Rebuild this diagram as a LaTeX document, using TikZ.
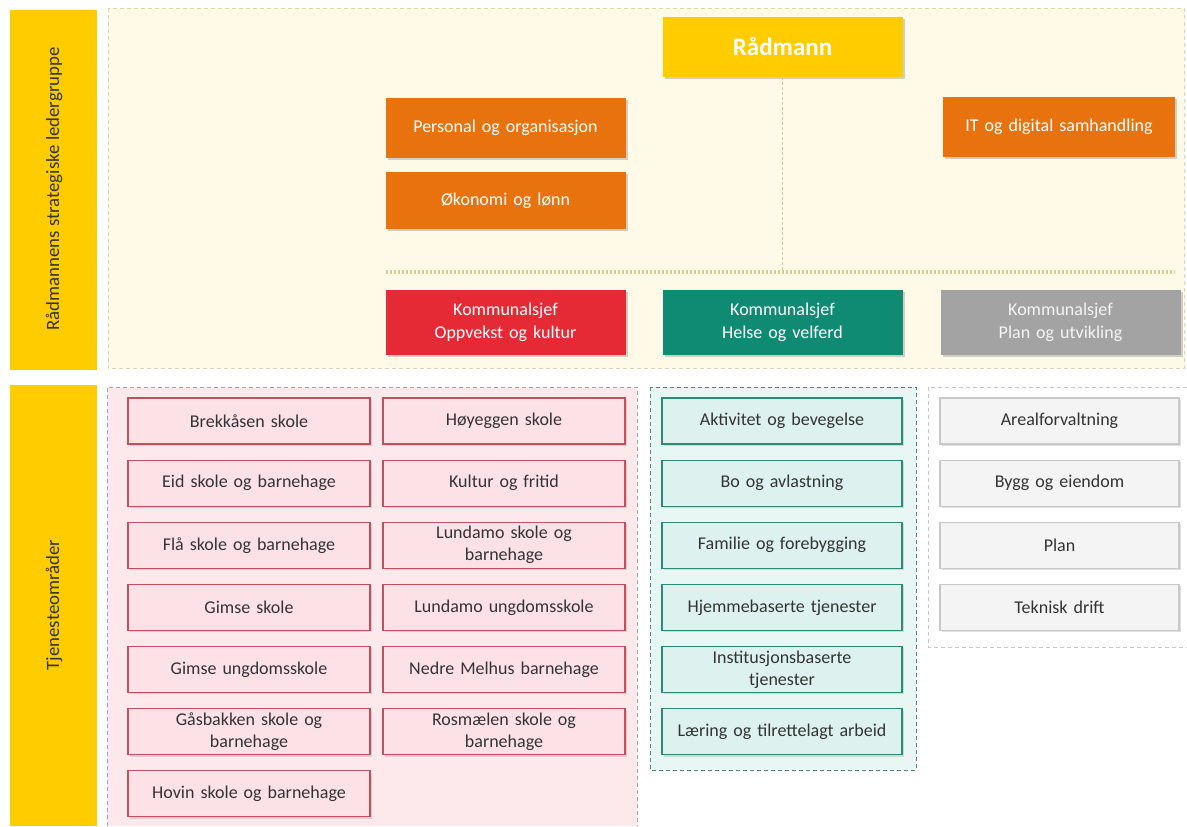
\documentclass[tikz,border=0pt]{standalone}
\usepackage{fontspec}
\setmainfont{Carlito}
\usetikzlibrary{calc,shadows}

\definecolor{gold}{HTML}{FFCC00}
\definecolor{cream}{HTML}{FFF9E8}
\definecolor{creamline}{HTML}{DDD6A8}
\definecolor{staffline}{HTML}{D9CD8C}
\definecolor{orange}{HTML}{E8720E}
\definecolor{oppvred}{HTML}{E52A36}
\definecolor{helsegreen}{HTML}{0F8A73}
\definecolor{plangray}{HTML}{A3A3A3}
\definecolor{pinkfill}{HTML}{FDE8EC}
\definecolor{pinkbox}{HTML}{FCE2E7}
\definecolor{pinkline}{HTML}{C0505C}
\definecolor{tealfill}{HTML}{E9F7F4}
\definecolor{tealbox}{HTML}{DDF2EE}
\definecolor{tealline}{HTML}{2E8A78}
\definecolor{grayfill}{HTML}{FFFFFF}
\definecolor{graybox}{HTML}{F4F4F4}
\definecolor{grayline}{HTML}{C8C8C8}
\definecolor{txt}{HTML}{333333}

\tikzset{
  headbox/.style={minimum width=120pt, minimum height=30pt, text width=112pt,
    align=center, inner sep=0pt, text=white, font=\fontsize{9}{11.5}\selectfont,
    drop shadow={opacity=0.35, shadow xshift=1.2pt, shadow yshift=-1.2pt}},
  unitbox/.style={minimum width=121pt, minimum height=23pt, text width=115pt,
    align=center, inner sep=0pt, text=txt, font=\fontsize{9}{11}\selectfont,
    line width=0.6pt,
    drop shadow={opacity=0.25, shadow xshift=1pt, shadow yshift=-1pt}},
  oppvbox/.style={unitbox, fill=pinkbox, draw=pinkline},
  helsebox/.style={unitbox, fill=tealbox, draw=tealline},
  planbox/.style={unitbox, fill=graybox, draw=grayline},
  groupline/.style={dashed, dash pattern=on 2pt off 1.5pt, line width=0.5pt},
  sidebar/.style={fill=gold, draw=none},
  sidelabel/.style={rotate=90, text=txt, font=\fontsize{9.4}{11}\selectfont}
}

\begin{document}
\begin{tikzpicture}[x=0.5pt, y=-0.5pt]
    \useasboundingbox (0,0) rectangle (1187,826);
    \fill[white] (0,0) rectangle (1187,826);

    % Side bars with vertical labels
    \fill[sidebar] (10,10) rectangle (97,370);
    \fill[sidebar] (10,385) rectangle (97,826);
    \node[sidelabel] (lbltop) at (54,189) {Rådmannens strategiske ledergruppe};
    \node[sidelabel] (lblbot) at (54,605) {Tjenesteområder};

    % Leader group region
    \filldraw[fill=cream, draw=creamline, groupline] (108,8) rectangle (1184,368);

    % Service area regions
    \fill[pinkfill] (107,387) rectangle (637,826);
    \draw[draw=gray!70, groupline] (107,826) -- (107,387) -- (637,387) -- (637,826);
    \filldraw[fill=tealfill, draw=tealline!60!gray, groupline] (650,387) rectangle (916,770);
    \fill[grayfill] (928,387) rectangle (1187,647);
    \draw[draw=grayline, groupline] (1187,387) -- (928,387) -- (928,647) -- (1187,647);

    % Top management
    \node[headbox, fill=gold, minimum height=30pt,
          font=\fontsize{12.5}{14}\selectfont\bfseries] (radmann) at (782.5,47) {Rådmann};
    \node[headbox] (personal) [fill=orange] at (505.5,127.5) {Personal og organisasjon};
    \node[headbox] (okonomi) [fill=orange, minimum height=28.5pt] at (505.5,200.5) {Økonomi og lønn};
    \node[headbox, fill=orange, minimum width=116pt] (itdig) at (1059,127) {IT og digital samhandling};

    % Staff line
    \coordinate (lineL) at (386,272);
    \coordinate (lineR) at (1175,272);
    \coordinate (lineM) at (radmann.south |- lineL);
    \draw[staffline, dash pattern=on 1.5pt off 1pt, line width=0.9pt] (radmann.south) -- (lineM);
    \draw[staffline, dash pattern=on 1.2pt off 0.8pt, line width=1.6pt] (lineL) -- (lineR);

    % Kommunalsjefer
    \node[headbox, fill=oppvred, minimum height=32.5pt] (oppv) at (505.5,322.5) {Kommunalsjef\\Oppvekst og kultur};
    \node[headbox, fill=helsegreen, minimum height=32.5pt] (helse) at (782.5,322.5) {Kommunalsjef\\Helse og velferd};
    \node[headbox, fill=plangray, minimum height=32.5pt, text=white!92!gray] (plan) at (1060.5,322.5) {Kommunalsjef\\Plan og utvikling};

    % Oppvekst og kultur
    \foreach \txt [count=\i] in {Brekkåsen skole, Eid skole og barnehage, Flå skole og barnehage,
        Gimse skole, Gimse ungdomsskole, {Gåsbakken skole og\\barnehage}, Hovin skole og barnehage}
      \node[oppvbox] (oppvA\i) at (249,{421+62.1*(\i-1)}) {\txt};
    \foreach \txt [count=\i] in {Høyeggen skole, Kultur og fritid, {Lundamo skole og\\barnehage},
        Lundamo ungdomsskole, Nedre Melhus barnehage, {Rosmælen skole og\\barnehage}}
      \node[oppvbox] (oppvB\i) at (504,{421+62.1*(\i-1)}) {\txt};

    % Helse og velferd
    \foreach \txt [count=\i] in {Aktivitet og bevegelse, Bo og avlastning, Familie og forebygging,
        Hjemmebaserte tjenester, {Institusjonsbaserte\\tjenester}, Læring og tilrettelagt arbeid}
      \node[helsebox, minimum width=120pt] (helse\i) at (782,{421+62.1*(\i-1)}) {\txt};

    % Plan og utvikling
    \foreach \txt [count=\i] in {Arealforvaltning, Bygg og eiendom, Plan, Teknisk drift}
      \node[planbox, minimum width=119.5pt] (plan\i) at (1059.5,{421+62.1*(\i-1)}) {\txt};

\end{tikzpicture}
\end{document}
